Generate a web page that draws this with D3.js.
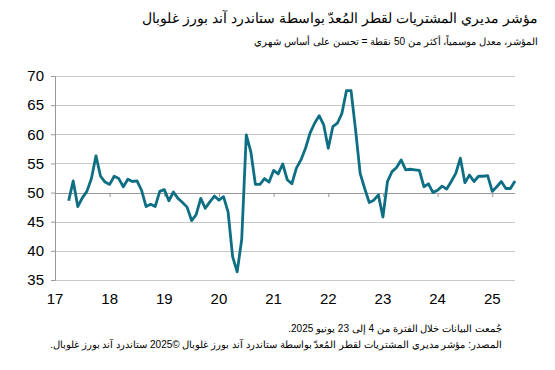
<!DOCTYPE html>
<html lang="ar">
<head>
<meta charset="utf-8">
<script src="https://cdn.jsdelivr.net/npm/d3@7"></script>
<style>
    body { margin: 0; background: #fff; }
    .chart text { font-family: "Liberation Sans", Arial, sans-serif; fill: #000; }
</style>
</head>
<body>
<div class="chart"></div>
<script>
// monthly PMI readings, Apr 2017 .. Jun 2025
const startMonth = 3; // months after Jan 2017
const pmi2017 = [48.6, 52.0, 47.6, 49.1, 50.2, 52.4, 56.3, 52.8, 51.8];
const pmi2018 = [51.4, 52.8, 52.4, 51.0, 52.3, 51.9, 52.0, 50.4, 47.6, 48.0, 47.6, 50.2];
const pmi2019 = [50.5, 48.6, 50.1, 49.0, 48.3, 47.5, 45.2, 46.2, 49.0, 47.3, 48.4, 49.4];
const pmi2020 = [48.7, 49.3, 46.7, 39.0, 36.4, 42.0, 59.9, 57.0, 51.4, 51.4, 52.4, 51.8];
const pmi2021 = [53.8, 53.2, 54.9, 52.2, 51.5, 54.2, 55.6, 57.6, 60.2, 61.9, 63.2, 61.6];
const pmi2022 = [57.6, 61.3, 61.9, 63.6, 67.5, 67.5, 60.7, 53.3, 50.7, 48.3, 48.7, 49.6];
const pmi2023 = [45.8, 51.9, 53.6, 54.3, 55.6, 53.9, 54.0, 53.9, 53.8, 51.0, 51.5, 50.0];
const pmi2024 = [50.4, 51.1, 50.6, 51.9, 53.3, 55.9, 51.7, 53.0, 51.9, 52.8, 52.8, 52.9];
const pmi2025 = [50.2, 51.0, 51.9, 50.7, 50.7, 52.0];

const yearLabels = ["17", "18", "19", "20", "21", "22", "23", "24", "25"];
const yTicks = [35, 40, 45, 50, 55, 60, 65, 70];

const titleText = "مؤشر مديري المشتريات لقطر المُعدّ بواسطة ستاندرد آند بورز غلوبال";
const subtitleText = "المؤشر، معدل موسمياً، أكثر من 50 نقطة = تحسن على أساس شهري";
const noteText = "جُمعت البيانات خلال الفترة من 4 إلى 23 يونيو 2025.";
const sourceText = "المصدر: مؤشر مديري المشتريات لقطر المُعدّ بواسطة ستاندرد آند بورز غلوبال ©2025 ستاندرد آند بورز غلوبال.";

const values = [].concat(pmi2017, pmi2018, pmi2019, pmi2020, pmi2021, pmi2022, pmi2023, pmi2024, pmi2025);
const dataset = values.map((v, i) => [startMonth + i, v]);

const w = 555,
    h = 370,
    plotLeft = 55,
    plotRight = 515,
    plotTop = 76,
    plotBottom = 280;

const svg = d3.select(".chart")
    .append("svg")
    .attr("width", w)
    .attr("height", h);

const xScale = d3.scaleLinear()
    .domain([0, startMonth + values.length - 1])
    .range([plotLeft, plotRight]);

const yScale = d3.scaleLinear()
    .domain([35, 70])
    .range([plotBottom, plotTop]);

// horizontal gridlines
svg.selectAll(".grid")
    .data(yTicks.filter(d => d !== 50))
    .enter()
    .append("line")
    .attr("x1", plotLeft)
    .attr("x2", plotRight)
    .attr("y1", d => Math.round(yScale(d)) + 0.5)
    .attr("y2", d => Math.round(yScale(d)) + 0.5)
    .attr("stroke", "#c8c8c8")
    .attr("stroke-width", 1);

// y axis
const yAxis = d3.axisLeft(yScale).tickValues(yTicks).tickSize(4).tickPadding(7);
const gy = svg.append("g")
    .attr("transform", "translate(" + plotLeft + ",0)")
    .call(yAxis);
gy.selectAll("path, line").attr("stroke", "#999");
gy.selectAll("text").style("font-size", "15px");

// x axis crosses at 50, labels sit at the bottom
const yearTicks = yearLabels.map((d, i) => i * 12);
const xAxis = d3.axisBottom(xScale).tickValues(yearTicks).tickSize(4).tickFormat("");
const gx = svg.append("g")
    .attr("transform", "translate(0," + Math.round(yScale(50)) + ")")
    .call(xAxis);
gx.select("path").attr("stroke", "#999").attr("d", "M" + plotLeft + ",0.5H" + plotRight);
gx.selectAll("line").attr("stroke", "#999");

svg.selectAll(".xlabel")
    .data(yearLabels)
    .enter()
    .append("text")
    .attr("x", (d, i) => xScale(yearTicks[i]))
    .attr("y", plotBottom + 24)
    .attr("text-anchor", "middle")
    .style("font-size", "15px")
    .text(d => d);

const line = d3.line()
    .x(d => xScale(d[0]))
    .y(d => yScale(d[1]));

svg.append("path")
    .datum(dataset)
    .attr("d", line)
    .attr("fill", "none")
    .attr("stroke", "#0e6e83")
    .attr("stroke-width", 2.8)
    .attr("stroke-linejoin", "round");

// titles and notes
svg.append("text")
    .attr("x", 538)
    .attr("y", 23)
    .attr("direction", "rtl")
    .attr("text-anchor", "start")
    .style("font-size", "14px")
    .text(titleText);

svg.append("text")
    .attr("x", 538)
    .attr("y", 45)
    .attr("direction", "rtl")
    .attr("text-anchor", "start")
    .style("font-size", "10px")
    .text(subtitleText);

svg.append("text")
    .attr("x", 502)
    .attr("y", 332)
    .attr("direction", "rtl")
    .attr("text-anchor", "start")
    .style("font-size", "10px")
    .text(noteText);

svg.append("text")
    .attr("x", 502)
    .attr("y", 348)
    .attr("direction", "rtl")
    .attr("text-anchor", "start")
    .style("font-size", "10px")
    .text(sourceText);
</script>
</body>
</html>
